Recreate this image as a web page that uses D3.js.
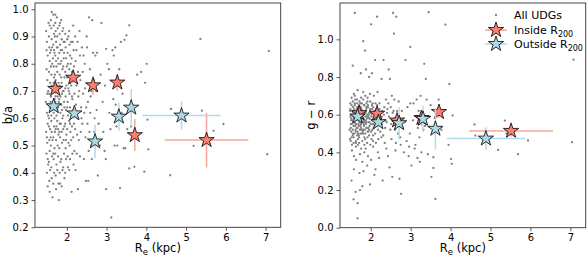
<!DOCTYPE html>
<html><head><meta charset="utf-8">
<script src="https://cdn.jsdelivr.net/npm/d3@7"></script>
<style>
html,body{margin:0;padding:0;background:#fff;}
svg text{font-family:"DejaVu Sans",sans-serif;fill:#000;}
</style></head>
<body><svg id="c" width="588" height="258"></svg>
<script>
// ---- Data ----
// All UDGs: [Re (kpc), b/a, g-r]
const allUDGs = [
[1.48,0.92,0.62],[1.50,0.88,0.55],[1.52,0.83,0.48],[1.49,0.78,0.66],[1.51,0.74,0.58],[1.53,0.70,0.44],[1.47,0.66,0.52],[1.50,0.62,0.60],[1.52,0.58,0.69],[1.48,0.55,0.47],[1.51,0.51,0.57],[1.49,0.47,0.63],[1.53,0.43,0.41],[1.50,0.40,0.53],[1.52,0.35,0.25],
[1.55,0.90,0.86],[1.56,0.86,0.61],[1.57,0.81,0.54],[1.55,0.77,0.50],[1.58,0.73,0.71],[1.56,0.69,0.59],[1.57,0.64,0.45],[1.55,0.60,0.67],[1.58,0.56,0.38],[1.56,0.52,0.56],[1.57,0.48,0.62],[1.55,0.44,0.49],[1.58,0.41,0.31],[1.56,0.37,0.64],[1.57,0.33,0.15],
[1.60,0.96,1.14],[1.61,0.93,0.58],[1.62,0.89,0.52],[1.60,0.85,0.65],[1.63,0.80,0.46],[1.61,0.76,0.60],[1.62,0.72,0.55],[1.60,0.68,0.70],[1.63,0.63,0.43],[1.61,0.59,0.57],[1.62,0.55,0.51],[1.60,0.50,0.66],[1.63,0.46,0.36],[1.61,0.42,0.54],[1.62,0.38,0.19],[1.64,0.31,0.60],
[1.66,0.98,0.63],[1.67,0.94,0.53],[1.68,0.91,0.47],[1.66,0.87,0.68],[1.69,0.84,0.58],[1.67,0.79,0.05],[1.68,0.75,0.62],[1.66,0.71,0.49],[1.69,0.67,0.57],[1.67,0.62,0.73],[1.68,0.57,0.44],[1.66,0.53,0.61],[1.69,0.49,0.55],[1.67,0.45,0.13],[1.68,0.40,0.50],[1.66,0.36,0.64],
[1.71,0.95,0.59],[1.72,0.92,0.67],[1.73,0.88,0.52],[1.71,0.83,0.45],[1.74,0.79,0.61],[1.72,0.74,0.56],[1.73,0.70,0.39],[1.71,0.66,0.64],[1.74,0.61,0.54],[1.72,0.56,0.29],[1.73,0.52,0.60],[1.71,0.47,0.48],[1.74,0.43,0.66],[1.72,0.39,0.58],[1.73,0.34,0.20],[1.75,0.97,0.82],
[1.76,0.90,0.55],[1.77,0.86,0.63],[1.78,0.82,0.50],[1.76,0.77,0.69],[1.79,0.73,0.46],[1.77,0.68,0.57],[1.78,0.64,0.61],[1.76,0.59,0.53],[1.79,0.54,0.35],[1.77,0.50,0.62],[1.78,0.46,0.58],[1.76,0.41,0.42],[1.79,0.36,0.22],[1.80,0.30,0.51],
[1.81,0.94,0.99],[1.82,0.91,0.60],[1.83,0.87,0.54],[1.81,0.84,0.72],[1.84,0.80,0.48],[1.82,0.76,0.58],[1.83,0.71,0.65],[1.81,0.67,0.52],[1.84,0.62,0.44],[1.82,0.58,0.60],[1.83,0.53,0.56],[1.81,0.49,0.68],[1.84,0.44,0.40],[1.82,0.40,0.30],[1.83,0.36,0.57],
[1.86,0.96,0.94],[1.87,0.89,0.62],[1.88,0.85,0.55],[1.86,0.81,0.47],[1.89,0.78,0.66],[1.87,0.73,0.59],[1.88,0.69,0.84],[1.86,0.65,0.50],[1.89,0.60,0.63],[1.87,0.55,0.42],[1.88,0.51,0.57],[1.86,0.45,0.70],[1.89,0.41,0.53],[1.87,0.35,0.61],
[1.91,0.93,0.58],[1.92,0.88,0.51],[1.93,0.84,0.64],[1.91,0.79,0.45],[1.94,0.75,0.56],[1.92,0.70,0.69],[1.93,0.66,0.38],[1.91,0.61,0.60],[1.94,0.57,0.53],[1.92,0.52,0.48],[1.93,0.47,0.65],[1.91,0.42,0.33],[1.94,0.38,0.59],
[1.96,0.91,0.80],[1.97,0.86,0.56],[1.98,0.82,0.62],[1.96,0.77,0.49],[1.99,0.72,0.67],[1.97,0.68,0.54],[1.98,0.63,0.23],[1.96,0.58,0.61],[1.99,0.54,0.44],[1.97,0.49,0.58],[1.98,0.45,0.71],[1.96,0.40,0.52],
[2.01,0.89,1.08],[2.02,0.84,0.59],[2.03,0.80,0.65],[2.01,0.75,0.51],[2.04,0.71,0.57],[2.02,0.66,0.47],[2.03,0.61,0.63],[2.01,0.56,0.36],[2.04,0.51,0.55],[2.02,0.46,0.60],[2.03,0.42,0.82],
[2.06,0.92,0.64],[2.07,0.87,0.53],[2.08,0.83,0.58],[2.06,0.78,0.46],[2.09,0.73,0.62],[2.07,0.69,0.55],[2.08,0.64,0.70],[2.06,0.59,0.49],[2.09,0.55,0.28],[2.07,0.50,0.57],[2.08,0.45,0.61],[2.06,0.41,0.43],
[2.11,0.88,0.89],[2.12,0.82,0.56],[2.13,0.77,0.63],[2.11,0.72,0.50],[2.14,0.67,0.58],[2.12,0.62,0.66],[2.13,0.57,0.45],[2.11,0.52,0.60],[2.14,0.47,0.54],[2.12,0.33,0.31],
[2.16,0.94,1.12],[2.17,0.85,0.61],[2.18,0.79,0.52],[2.16,0.74,0.65],[2.19,0.69,0.47],[2.17,0.63,0.57],[2.18,0.58,0.40],[2.16,0.53,0.62],[2.19,0.48,0.55],[2.17,0.43,0.72],
[2.21,0.90,0.58],[2.22,0.81,0.66],[2.24,0.72,0.51],[2.23,0.65,0.60],[2.21,0.56,0.37],[2.25,0.47,0.56],[2.22,0.41,0.63],
[2.27,0.88,0.79],[2.28,0.77,0.55],[2.29,0.68,0.62],[2.27,0.60,0.48],[2.30,0.52,0.25],[2.28,0.34,0.59],
[2.32,0.92,0.89],[2.33,0.83,0.57],[2.34,0.74,0.64],[2.36,0.64,0.53],[2.35,0.55,0.45],[2.33,0.46,0.60],
[2.38,0.86,0.68],[2.40,0.77,0.56],[2.41,0.69,0.61],[2.39,0.58,0.42],[2.43,0.45,0.38],
[2.45,0.80,0.84],[2.46,0.71,0.59],[2.44,0.62,0.66],[2.47,0.53,0.32],[2.48,0.37,0.79],
[2.50,0.90,0.64],[2.51,0.86,0.55],[2.53,0.66,0.70],[2.52,0.58,0.47],[2.55,0.48,0.61],[2.54,0.37,0.27],
[2.56,0.97,1.14],[2.58,0.78,1.03],[2.60,0.68,0.58],[2.59,0.62,0.68],[2.61,0.50,0.52],[2.63,0.45,0.45],
[2.64,0.96,1.12],[2.66,0.84,0.62],[2.68,0.74,0.50],[2.70,0.60,0.67],[2.69,0.55,0.58],
[2.72,0.83,0.26],[2.74,0.70,0.48],[2.76,0.84,0.18],[2.78,0.39,0.62],[2.80,0.58,0.53],
[2.85,0.76,0.56],[2.87,0.95,0.89],[2.90,0.66,0.46],[2.92,0.55,0.64],[2.95,0.48,0.38],
[2.99,0.855,0.96],[2.99,0.34,0.66],[2.98,0.45,0.50],[3.02,0.80,0.33],[3.06,0.78,0.57],[3.07,0.62,0.66],
[3.12,0.236,0.44],[3.15,0.85,0.68],[3.17,0.67,0.37],[3.18,0.83,0.53],[3.20,0.50,0.62],[3.22,0.86,0.48],
[3.25,0.57,0.70],[3.27,0.50,0.40],[3.30,0.73,0.59],[3.34,0.344,0.87],[3.36,0.88,0.54],[3.38,0.62,0.79],
[3.40,0.69,0.68],[3.43,0.49,0.39],[3.45,0.888,1.144],[3.47,0.49,0.59],[3.50,0.904,0.65],[3.52,0.56,0.27],
[3.57,0.941,0.374],[3.57,0.416,0.317],[3.62,0.57,0.153],[3.70,0.422,0.68],[3.77,0.76,0.52],[3.87,0.77,1.078],
[3.95,0.404,0.44],[3.97,0.73,0.763],[4.01,0.80,0.365],[4.05,0.486,0.596],[4.03,0.595,0.339],
[4.60,0.391,0.548],[4.62,0.634,0.489],[5.19,0.499,0.413],[5.36,0.891,0.569],[5.40,0.628,0.50],
[5.69,0.554,0.39],[5.94,0.579,0.463],[7.04,0.468,0.454],[7.08,0.847,0.892],
[1.49,0.85,0.59],[1.51,0.69,0.51],[1.53,0.61,0.55],[1.50,0.53,0.46],[1.52,0.45,0.65],[1.54,0.95,0.57],[1.54,0.65,0.62],[1.55,0.57,0.52],
[1.57,0.94,0.48],[1.58,0.84,0.58],[1.59,0.66,0.63],[1.59,0.53,0.50],[1.60,0.79,0.56],[1.61,0.61,0.68],[1.62,0.99,0.60],[1.63,0.86,0.45],
[1.64,0.70,0.55],[1.64,0.52,0.61],[1.65,0.82,0.53],[1.65,0.64,0.59],[1.66,0.47,0.66],[1.67,0.73,0.51],[1.68,0.85,0.57],[1.69,0.60,0.63],
[1.70,0.90,0.49],[1.70,0.76,0.60],[1.70,0.55,0.54],[1.71,0.98,0.65],[1.72,0.68,0.58],[1.73,0.81,0.62],[1.74,0.57,0.50],[1.75,0.86,0.64],
[1.75,0.72,0.55],[1.76,0.63,0.59],[1.77,0.93,0.52],[1.78,0.56,0.66],[1.79,0.80,0.56],[1.80,0.66,0.62],[1.81,0.55,0.50],[1.82,0.72,0.60],
[1.83,0.95,0.55],[1.84,0.68,0.65],[1.85,0.85,0.57],[1.85,0.58,0.52],[1.86,0.75,0.61],[1.88,0.63,0.56],[1.89,0.92,0.64],[1.90,0.70,0.53],
[1.91,0.56,0.59],[1.92,0.82,0.67],[1.94,0.64,0.51],[1.95,0.88,0.60],[1.96,0.71,0.58],[1.98,0.52,0.63],[2.00,0.79,0.55],[2.01,0.64,0.61],
[2.04,0.90,0.52],[2.05,0.70,0.66],[2.08,0.58,0.59],[2.10,0.80,0.54],[2.13,0.68,0.60],[2.15,0.88,0.63],[2.20,0.62,0.55],[2.24,0.85,0.61],
[2.26,0.54,0.58],[2.31,0.70,0.49],[2.37,0.60,0.57],[2.42,0.83,0.63],[2.49,0.64,0.52],[2.57,0.55,0.62],[2.62,0.70,0.41],[2.75,0.63,0.44],
[2.83,0.50,0.40],[2.96,0.72,0.43],[3.10,0.56,0.42],[3.23,0.65,0.35],[3.32,0.78,0.52]
];

// Inside R200 binned stars
const insideRe    = [1.71, 2.16, 2.66, 3.27, 3.71, 5.515];
const insideReErr = [0.08, 0.08, 0.08, 0.08, 0.08, 1.05];
const insideBA    = [0.708, 0.749, 0.721, 0.731, 0.538, 0.520];
const insideBAErr = [0.02, 0.02, 0.035, 0.03, 0.058, 0.10];
const insideGR    = [0.608, 0.605, 0.569, 0.582, 0.614, 0.514];
const insideGRErr = [0.02, 0.02, 0.03, 0.04, 0.03, 0.03];

// Outside R200 binned stars
const outsideRe    = [1.67, 2.19, 2.71, 3.31, 3.62, 4.885];
const outsideReErr = [0.08, 0.08, 0.08, 0.08, 0.08, 0.98];
const outsideBA    = [0.644, 0.618, 0.515, 0.606, 0.639, 0.610];
const outsideBAErr = [0.02, 0.02, 0.062, 0.052, 0.068, 0.052];
const outsideGR    = [0.590, 0.560, 0.555, 0.578, 0.525, 0.473];
const outsideGRErr = [0.02, 0.03, 0.085, 0.07, 0.11, 0.06];

const xTicks = [2, 3, 4, 5, 6, 7];
const baTicks = [0.2, 0.3, 0.4, 0.5, 0.6, 0.7, 0.8, 0.9, 1.0];
const grTicks = [0.0, 0.2, 0.4, 0.6, 0.8, 1.0];
const legendLabels = ["All UDGs", "Inside", "Outside"];

// ---- Drawing ----
const svg = d3.select("#c");
const RED = "#fa8072", BLUE = "#add8e6";
const RED_ERR = "#f9a59b", BLUE_ERR = "#b2dbe9";
const starSym = d3.symbol().type(d3.symbolStar).size(72);

function panel(cfg) {
  const x = d3.scaleLinear().domain(cfg.xDom).range([cfg.x0, cfg.x1]);
  const y = d3.scaleLinear().domain(cfg.yDom).range([cfg.y1, cfg.y0]);
  const g = svg.append("g");

  // gray points
  g.append("g").selectAll("circle").data(allUDGs).join("circle")
    .attr("cx", d => x(d[0])).attr("cy", d => y(d[cfg.col]))
    .attr("r", 1.15).attr("fill", "#808080");

  function series(re, reErr, v, vErr, fill, errCol) {
    const idx = d3.range(re.length);
    const eg = g.append("g").attr("stroke", errCol).attr("stroke-width", 1.5);
    eg.selectAll("line.h").data(idx).join("line").attr("class", "h")
      .attr("x1", i => x(re[i] - reErr[i])).attr("x2", i => x(re[i] + reErr[i]))
      .attr("y1", i => y(v[i])).attr("y2", i => y(v[i]));
    eg.selectAll("line.v").data(idx).join("line").attr("class", "v")
      .attr("x1", i => x(re[i])).attr("x2", i => x(re[i]))
      .attr("y1", i => y(v[i] - vErr[i])).attr("y2", i => y(v[i] + vErr[i]));
    g.append("g").selectAll("path").data(idx).join("path")
      .attr("d", starSym)
      .attr("transform", i => `translate(${x(re[i])},${y(v[i])})`)
      .attr("fill", fill).attr("stroke", "#000").attr("stroke-width", 0.8);
  }
  series(insideRe, insideReErr, cfg.inV, cfg.inE, RED, RED_ERR);
  series(outsideRe, outsideReErr, cfg.outV, cfg.outE, BLUE, BLUE_ERR);

  // axes
  const xa = g.append("g").attr("transform", `translate(0,${cfg.y1})`)
    .call(d3.axisBottom(x).tickValues(xTicks).tickSize(3.5).tickPadding(3).tickFormat(d3.format("d")));
  const ya = g.append("g").attr("transform", `translate(${cfg.x0},0)`)
    .call(d3.axisLeft(y).tickValues(cfg.yTicks).tickSize(3.5).tickPadding(3).tickFormat(d3.format(".1f")));
  [xa, ya].forEach(a => {
    a.select(".domain").remove();
    a.selectAll("line").attr("stroke", "#333").attr("stroke-width", 0.8);
    a.selectAll("text").attr("font-size", 10).style("font-family", '"DejaVu Sans",sans-serif').attr("fill", "#000");
  });
  // frame
  g.append("rect").attr("x", cfg.x0).attr("y", cfg.y0)
    .attr("width", cfg.x1 - cfg.x0).attr("height", cfg.y1 - cfg.y0)
    .attr("fill", "none").attr("stroke", "#333").attr("stroke-width", 0.9);

  // x label
  const xl = g.append("text").attr("x", (cfg.x0 + cfg.x1) / 2).attr("y", 252)
    .attr("text-anchor", "middle").attr("font-size", 11.5);
  xl.append("tspan").text("R");
  xl.append("tspan").attr("font-size", 8.5).attr("dy", 2.5).text("e");
  xl.append("tspan").attr("dy", -2.5).text(" (kpc)");
  // y label
  g.append("text").attr("transform", `translate(${cfg.ylx},${(cfg.y0 + cfg.y1) / 2}) rotate(-90)`)
    .attr("text-anchor", "middle").attr("font-size", 11.5).text(cfg.ylab);
  return {x, y};
}

panel({x0: 35, x1: 280.7, y0: 3, y1: 227.3, xDom: [1.2, 7.38], yDom: [0.2, 1.023],
  col: 1, inV: insideBA, inE: insideBAErr, outV: outsideBA, outE: outsideBAErr,
  yTicks: baTicks, ylab: "b/a", ylx: 12});
panel({x0: 340, x1: 585.7, y0: 3, y1: 227.7, xDom: [1.23, 7.385], yDom: [0, 1.193],
  col: 2, inV: insideGR, inE: insideGRErr, outV: outsideGR, outE: outsideGRErr,
  yTicks: grTicks, ylab: "g \u2212 r", ylx: 315});

// legend
const lg = svg.append("g");
const lx = 496, tx = 514, ly = [15, 30, 44];
lg.append("circle").attr("cx", lx).attr("cy", ly[0]).attr("r", 1.15).attr("fill", "#808080");
[[RED, RED_ERR], [BLUE, BLUE_ERR]].forEach((c, k) => {
  lg.append("line").attr("x1", lx - 11).attr("x2", lx + 11).attr("y1", ly[k + 1]).attr("y2", ly[k + 1])
    .attr("stroke", c[1]).attr("stroke-width", 1.5);
  lg.append("path").attr("d", starSym).attr("transform", `translate(${lx},${ly[k + 1]})`)
    .attr("fill", c[0]).attr("stroke", "#000").attr("stroke-width", 0.8);
});
lg.append("text").attr("x", tx).attr("y", ly[0] + 4).attr("font-size", 11).text(legendLabels[0]);
[1, 2].forEach(k => {
  const t = lg.append("text").attr("x", tx).attr("y", ly[k] + 4).attr("font-size", 11);
  t.append("tspan").text(legendLabels[k] + " R");
  t.append("tspan").attr("font-size", 8).attr("dy", 2.5).text("200");
});
</script></body></html>
